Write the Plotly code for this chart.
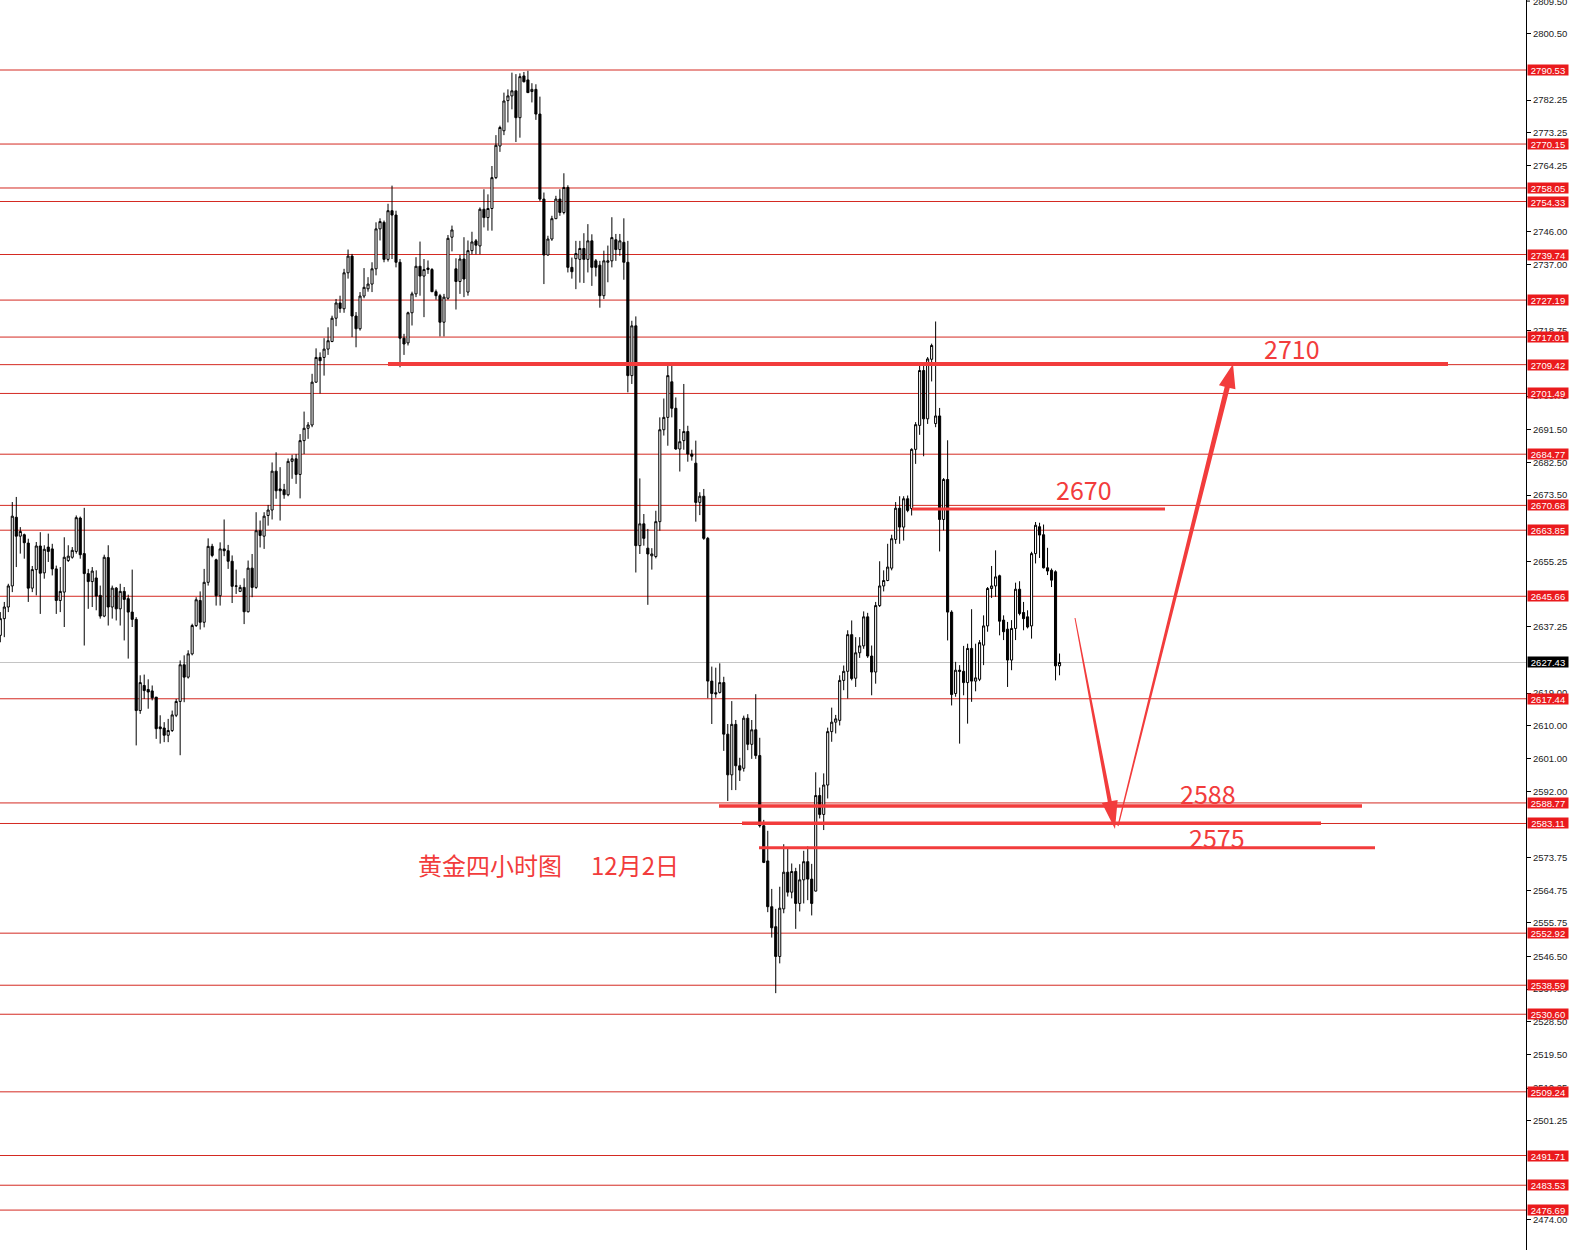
import plotly.graph_objects as go

# ---------------- data (4-hour gold candles) ----------------
open_ = [
    2634.9, 2639.5, 2642.7, 2648.5, 2667.4, 2662.2, 2662.6, 2660.3, 2647.9, 2653.0,
    2659.5, 2652.1, 2659.2, 2658.7, 2653.2, 2644.5, 2646.8, 2655.5, 2656.4, 2658.0,
    2667.2, 2657.4, 2651.9, 2649.7, 2650.7, 2645.9, 2640.2, 2656.3, 2642.7, 2647.9,
    2642.2, 2647.0, 2645.0, 2641.3, 2639.3, 2614.2, 2621.1, 2620.0, 2619.6, 2617.9,
    2609.7, 2609.4, 2607.4, 2608.7, 2612.9, 2616.7, 2626.8, 2623.4, 2629.8, 2637.6,
    2644.5, 2638.5, 2649.5, 2659.4, 2655.7, 2645.8, 2658.7, 2658.2, 2655.3, 2648.4,
    2647.0, 2648.1, 2641.4, 2653.4, 2648.1, 2663.7, 2662.2, 2667.9, 2669.4, 2680.1,
    2675.2, 2675.0, 2673.6, 2682.8, 2683.5, 2679.2, 2688.5, 2691.9, 2692.8, 2704.6,
    2711.4, 2711.4, 2713.7, 2715.8, 2722.2, 2726.4, 2724.8, 2734.7, 2739.3, 2722.8,
    2719.3, 2728.3, 2730.3, 2731.6, 2735.8, 2746.8, 2748.6, 2738.4, 2751.8, 2750.6,
    2737.6, 2716.7, 2715.4, 2723.7, 2728.9, 2736.5, 2733.8, 2736.0, 2735.6, 2729.5,
    2728.4, 2721.1, 2727.7, 2744.5, 2735.8, 2732.3, 2738.5, 2729.4, 2740.8, 2743.5,
    2742.1, 2752.2, 2749.9, 2752.4, 2760.9, 2769.6, 2773.8, 2782.1, 2783.4, 2784.8,
    2777.4, 2788.9, 2787.8, 2784.6, 2785.2, 2778.4, 2755.0, 2739.6, 2744.0, 2749.6,
    2755.0, 2751.3, 2758.2, 2736.2, 2738.6, 2738.4, 2741.4, 2738.4, 2743.5, 2738.0,
    2736.8, 2728.4, 2737.6, 2738.0, 2743.8, 2741.1, 2743.1, 2737.6, 2706.4, 2720.1,
    2659.6, 2665.6, 2658.9, 2656.8, 2656.6, 2666.2, 2691.5, 2694.9, 2704.7, 2697.4,
    2686.2, 2688.5, 2691.0, 2684.8, 2682.3, 2671.5, 2673.2, 2661.6, 2622.3, 2619.1,
    2619.2, 2621.9, 2607.7, 2596.5, 2610.4, 2599.0, 2598.3, 2612.1, 2604.9, 2608.9,
    2601.8, 2582.5, 2572.8, 2560.2, 2554.7, 2546.5, 2559.6, 2569.7, 2564.2, 2569.9,
    2561.1, 2567.6, 2572.6, 2567.8, 2564.5, 2590.8, 2585.6, 2593.7, 2608.4, 2611.0,
    2611.5, 2622.5, 2625.0, 2635.1, 2623.1, 2630.1, 2632.0, 2640.0, 2629.2, 2624.8,
    2643.1, 2648.5, 2650.0, 2653.4, 2661.3, 2669.9, 2664.7, 2672.5, 2669.8, 2686.1,
    2692.7, 2707.8, 2694.5, 2710.9, 2693.2, 2695.3, 2666.8, 2677.8, 2641.3, 2618.9,
    2625.3, 2625.0, 2621.9, 2631.3, 2622.3, 2622.8, 2632.2, 2637.5, 2647.8, 2648.5,
    2651.3, 2639.1, 2636.6, 2628.1, 2636.8, 2647.6, 2641.2, 2640.0, 2637.5, 2657.4,
    2664.8, 2662.6, 2653.5, 2652.8, 2652.4, 2626.5,
]
high = [
    2641.3, 2644.1, 2649.1, 2671.6, 2673.0, 2664.7, 2662.9, 2661.5, 2654.0, 2660.6,
    2663.3, 2659.7, 2662.9, 2660.1, 2654.1, 2653.7, 2661.9, 2659.7, 2659.2, 2667.9,
    2667.6, 2670.0, 2653.2, 2653.7, 2652.8, 2648.6, 2657.1, 2659.7, 2648.6, 2648.2,
    2649.1, 2648.2, 2646.1, 2653.0, 2639.9, 2623.9, 2624.1, 2622.8, 2621.1, 2617.9,
    2612.9, 2611.0, 2611.9, 2614.2, 2617.4, 2628.0, 2629.4, 2630.8, 2638.1, 2645.4,
    2647.0, 2653.2, 2661.6, 2660.1, 2656.0, 2660.5, 2666.8, 2659.8, 2656.9, 2653.0,
    2648.8, 2650.6, 2655.5, 2657.3, 2668.8, 2666.5, 2668.8, 2670.8, 2682.5, 2685.3,
    2681.2, 2676.6, 2683.6, 2684.6, 2684.8, 2690.3, 2696.5, 2693.6, 2706.9, 2713.9,
    2712.8, 2716.7, 2719.7, 2722.9, 2727.5, 2728.4, 2735.8, 2741.1, 2739.9, 2723.9,
    2729.4, 2736.0, 2733.5, 2737.6, 2748.6, 2749.7, 2749.1, 2753.7, 2758.7, 2751.8,
    2738.5, 2717.9, 2724.0, 2729.5, 2739.0, 2743.3, 2738.5, 2738.1, 2736.0, 2730.1,
    2728.9, 2728.9, 2745.1, 2747.7, 2738.7, 2739.6, 2744.5, 2743.6, 2746.0, 2744.0,
    2752.7, 2757.7, 2756.3, 2764.1, 2772.6, 2775.2, 2784.3, 2785.2, 2789.8, 2789.4,
    2789.6, 2790.0, 2790.3, 2786.9, 2786.6, 2783.2, 2756.8, 2744.9, 2750.4, 2755.9,
    2757.7, 2762.1, 2758.8, 2738.9, 2743.5, 2743.5, 2745.6, 2748.1, 2745.3, 2738.5,
    2738.0, 2740.8, 2742.2, 2750.0, 2745.4, 2745.4, 2749.7, 2743.5, 2721.5, 2722.7,
    2678.1, 2668.3, 2664.2, 2658.9, 2669.2, 2694.9, 2700.1, 2710.0, 2709.9, 2700.4,
    2691.7, 2704.1, 2692.6, 2686.0, 2688.5, 2674.3, 2675.2, 2662.0, 2626.3, 2626.0,
    2627.2, 2623.5, 2610.5, 2616.8, 2611.6, 2601.2, 2612.8, 2613.2, 2611.6, 2618.7,
    2606.7, 2584.1, 2581.1, 2565.1, 2559.6, 2565.7, 2577.4, 2576.1, 2572.1, 2570.9,
    2571.9, 2575.6, 2576.8, 2572.0, 2597.2, 2593.0, 2596.9, 2609.5, 2615.0, 2613.0,
    2623.9, 2626.6, 2636.3, 2639.0, 2634.4, 2634.4, 2641.5, 2641.1, 2632.1, 2644.1,
    2655.3, 2652.8, 2660.1, 2662.6, 2671.6, 2673.2, 2673.2, 2673.4, 2686.4, 2693.6,
    2710.1, 2709.2, 2711.5, 2715.2, 2721.3, 2697.5, 2678.2, 2688.6, 2641.8, 2627.6,
    2626.7, 2632.0, 2632.6, 2642.1, 2632.6, 2633.6, 2640.4, 2648.2, 2654.0, 2658.3,
    2651.6, 2640.4, 2638.6, 2639.1, 2649.4, 2649.8, 2644.1, 2641.8, 2657.9, 2666.1,
    2665.9, 2665.4, 2659.0, 2653.3, 2652.8, 2629.9,
]
low = [
    2633.0, 2634.4, 2641.3, 2646.8, 2653.7, 2657.4, 2656.0, 2644.1, 2646.8, 2645.9,
    2640.8, 2650.5, 2655.1, 2651.4, 2640.8, 2641.3, 2637.2, 2655.1, 2656.0, 2657.4,
    2656.0, 2632.1, 2642.2, 2642.7, 2641.8, 2639.5, 2639.9, 2637.6, 2639.5, 2639.0,
    2637.6, 2633.5, 2628.5, 2637.2, 2604.6, 2613.3, 2617.4, 2614.7, 2617.0, 2606.4,
    2605.1, 2605.5, 2605.5, 2608.3, 2612.4, 2601.9, 2616.5, 2623.0, 2629.4, 2637.2,
    2636.5, 2637.1, 2648.6, 2656.4, 2643.1, 2643.1, 2656.7, 2653.2, 2643.8, 2646.3,
    2646.8, 2638.0, 2641.2, 2645.4, 2647.7, 2659.1, 2658.7, 2665.1, 2666.8, 2672.5,
    2666.5, 2672.5, 2673.2, 2678.0, 2676.6, 2672.6, 2684.8, 2689.0, 2692.2, 2704.4,
    2701.5, 2706.4, 2712.1, 2715.6, 2720.0, 2723.7, 2723.7, 2733.1, 2717.0, 2714.2,
    2718.8, 2727.7, 2729.5, 2729.4, 2734.0, 2743.6, 2737.6, 2737.8, 2738.5, 2736.2,
    2708.7, 2712.1, 2714.7, 2720.2, 2728.0, 2728.4, 2722.5, 2734.4, 2729.4, 2727.3,
    2717.2, 2717.2, 2727.3, 2740.6, 2724.6, 2728.9, 2728.0, 2728.4, 2739.8, 2739.8,
    2739.8, 2747.2, 2746.3, 2746.3, 2760.5, 2768.0, 2772.6, 2776.1, 2779.7, 2770.7,
    2771.9, 2787.1, 2784.3, 2781.6, 2776.8, 2754.5, 2731.6, 2739.4, 2743.5, 2749.5,
    2750.4, 2750.8, 2734.8, 2733.1, 2730.2, 2732.0, 2731.9, 2734.8, 2731.1, 2733.7,
    2725.1, 2727.5, 2732.1, 2736.2, 2738.0, 2739.4, 2732.8, 2701.8, 2704.1, 2652.2,
    2657.3, 2659.6, 2643.3, 2653.0, 2656.1, 2663.7, 2689.9, 2687.1, 2694.9, 2686.0,
    2680.0, 2686.0, 2682.7, 2683.0, 2666.2, 2668.0, 2661.2, 2617.6, 2610.5, 2617.7,
    2618.9, 2603.1, 2589.3, 2592.3, 2592.3, 2594.8, 2597.4, 2603.3, 2600.9, 2600.9,
    2582.0, 2572.2, 2558.7, 2551.7, 2536.4, 2544.6, 2558.4, 2563.0, 2562.5, 2554.1,
    2558.9, 2561.1, 2562.0, 2557.8, 2564.4, 2584.5, 2581.3, 2590.0, 2605.6, 2607.9,
    2610.1, 2619.8, 2617.5, 2622.5, 2620.7, 2628.7, 2631.2, 2628.7, 2618.4, 2621.6,
    2642.7, 2647.0, 2649.8, 2652.8, 2660.1, 2660.1, 2661.0, 2668.8, 2667.9, 2682.1,
    2690.1, 2684.2, 2693.1, 2704.8, 2692.2, 2658.0, 2663.8, 2633.5, 2615.6, 2618.0,
    2605.1, 2618.4, 2610.6, 2616.6, 2619.5, 2622.3, 2626.7, 2635.9, 2645.2, 2645.5,
    2634.9, 2633.6, 2620.7, 2625.3, 2633.6, 2640.4, 2636.3, 2636.8, 2634.0, 2654.7,
    2656.2, 2653.3, 2651.5, 2648.2, 2622.5, 2623.9,
]
close = [
    2639.5, 2642.7, 2648.5, 2667.7, 2662.2, 2663.5, 2660.4, 2647.9, 2653.0, 2659.5,
    2652.0, 2658.6, 2658.0, 2653.2, 2644.5, 2647.0, 2656.4, 2656.7, 2658.3, 2667.3,
    2657.1, 2651.9, 2649.7, 2652.6, 2645.7, 2640.2, 2656.4, 2642.7, 2647.9, 2642.2,
    2647.0, 2644.8, 2641.3, 2639.3, 2614.2, 2621.9, 2619.7, 2619.3, 2617.7, 2609.2,
    2609.2, 2607.4, 2608.7, 2613.0, 2616.7, 2626.8, 2623.4, 2629.8, 2637.6, 2644.7,
    2638.5, 2649.5, 2659.4, 2656.9, 2645.8, 2658.7, 2658.2, 2655.3, 2648.4, 2648.5,
    2648.1, 2641.4, 2653.4, 2648.1, 2663.7, 2662.4, 2667.7, 2669.4, 2680.1, 2674.7,
    2674.7, 2673.6, 2682.8, 2683.5, 2679.2, 2688.5, 2691.9, 2692.8, 2704.6, 2711.4,
    2710.5, 2713.7, 2716.0, 2722.2, 2726.4, 2724.9, 2734.7, 2739.3, 2722.8, 2719.3,
    2728.3, 2730.7, 2731.6, 2735.8, 2746.8, 2748.8, 2738.4, 2751.8, 2750.6, 2737.6,
    2716.7, 2715.1, 2723.7, 2728.9, 2736.5, 2733.8, 2735.6, 2735.6, 2729.5, 2728.4,
    2721.1, 2728.0, 2744.2, 2746.5, 2732.3, 2738.5, 2733.0, 2740.8, 2743.2, 2742.3,
    2752.2, 2749.9, 2752.4, 2760.9, 2769.8, 2774.7, 2782.0, 2783.4, 2784.8, 2777.4,
    2788.7, 2787.3, 2784.3, 2785.2, 2778.4, 2755.0, 2739.6, 2744.0, 2749.6, 2755.0,
    2751.3, 2758.2, 2736.2, 2735.0, 2740.0, 2741.4, 2738.4, 2743.5, 2736.2, 2736.2,
    2728.4, 2738.0, 2738.0, 2744.4, 2741.1, 2743.5, 2737.6, 2706.4, 2720.1, 2659.6,
    2665.6, 2661.6, 2657.3, 2657.3, 2666.2, 2691.5, 2694.9, 2706.4, 2697.4, 2686.2,
    2688.2, 2691.0, 2684.8, 2684.2, 2671.5, 2673.2, 2661.6, 2622.3, 2618.9, 2618.8,
    2621.9, 2607.7, 2596.5, 2610.4, 2599.0, 2597.8, 2612.1, 2604.9, 2608.9, 2601.8,
    2582.5, 2572.4, 2560.2, 2554.4, 2546.5, 2559.8, 2569.7, 2564.2, 2569.9, 2561.1,
    2567.6, 2572.6, 2567.8, 2561.1, 2590.8, 2585.6, 2593.7, 2608.4, 2611.0, 2611.9,
    2622.5, 2625.0, 2635.1, 2623.0, 2630.1, 2632.0, 2640.0, 2629.2, 2624.8, 2643.1,
    2648.5, 2650.0, 2653.7, 2661.5, 2669.9, 2664.7, 2672.5, 2669.3, 2686.1, 2692.9,
    2707.8, 2694.5, 2711.0, 2714.7, 2695.3, 2666.8, 2677.8, 2641.3, 2618.6, 2625.3,
    2625.0, 2621.9, 2631.3, 2622.3, 2623.2, 2632.9, 2637.5, 2647.8, 2648.5, 2651.0,
    2638.8, 2635.9, 2628.1, 2636.8, 2647.6, 2640.9, 2639.5, 2637.2, 2657.4, 2665.2,
    2662.5, 2653.5, 2652.6, 2650.1, 2626.5, 2627.43,
]
assert len(open_) == len(high) == len(low) == len(close), (len(open_), len(high), len(low), len(close))
bar_index = list(range(len(close)))

# horizontal support / resistance levels (with red price tags)
level_prices = [2790.53, 2770.15, 2758.05, 2754.33, 2739.74, 2727.19, 2717.01, 2709.42,
                2701.49, 2684.77, 2670.68, 2663.85, 2645.66, 2617.44, 2588.77, 2583.11,
                2552.92, 2538.59, 2530.60, 2509.24, 2491.71, 2483.53, 2476.69]
current_price = 2627.43

# price axis ticks (those fully hidden behind the price tags are left out)
tick_values = [2800.50, 2782.25, 2773.25, 2764.25, 2746.00, 2737.00, 2718.75, 2700.75,
               2691.50, 2682.50, 2673.50, 2655.25, 2637.25, 2619.00, 2610.00, 2601.00,
               2592.00, 2573.75, 2564.75, 2555.75, 2546.50, 2537.50, 2528.50, 2519.50,
               2510.25, 2501.25, 2474.00]
tick_labels = [f"{v:.2f}" for v in tick_values]
top_tick = 2809.50

# hand-drawn target levels
target_prices = [2709.6, 2669.7, 2587.9, 2583.2, 2576.4]
target_labels = ["2710", "2670", "2588", "", "2575"]

title_left = "黄金四小时图"
title_right = "12月2日"

# ---------------- figure ----------------
W, H = 1569, 1250
PW = 1526  # plot-area width in px (axis sits at its right edge)
RED_LINE = "#d42a22"
RED_TAG = "#ea1a1d"
RED_DRAW = "#f23c3c"


def px(x):
    return x / PW


def py(y):
    return 1 - y / H


fig = go.Figure()
fig.add_trace(go.Candlestick(
    x=bar_index, open=open_, high=high, low=low, close=close,
    increasing=dict(line=dict(color="black", width=1), fillcolor="white"),
    decreasing=dict(line=dict(color="black", width=1), fillcolor="black"),
    whiskerwidth=0, hoverinfo="skip", showlegend=False,
))

shapes = []
annotations = []
tick_font = dict(family="Liberation Sans, Arial, sans-serif", size=9.5, color="#222222")
tag_font = dict(family="Liberation Sans, Arial, sans-serif", size=9.5, color="white")

for lv in level_prices:
    shapes.append(dict(type="line", xref="paper", yref="y", x0=0, x1=1, y0=lv, y1=lv,
                       line=dict(color=RED_LINE, width=1), layer="below"))
    annotations.append(dict(xref="paper", yref="y", x=1, y=lv, xanchor="left", yanchor="middle",
                            xshift=1, text=f"{lv:.2f}", showarrow=False, font=tag_font,
                            bgcolor=RED_TAG, width=40, height=10, borderpad=0))

shapes.append(dict(type="line", xref="paper", yref="y", x0=0, x1=1, y0=current_price, y1=current_price,
                   line=dict(color="#c4c4c4", width=1), layer="below"))
annotations.append(dict(xref="paper", yref="y", x=1, y=current_price, xanchor="left", yanchor="middle",
                        xshift=1, text=f"{current_price:.2f}", showarrow=False, font=tag_font,
                        bgcolor="black", width=40, height=10, borderpad=0))

# top tick label, half cut by the top edge as in the source
annotations.append(dict(xref="paper", yref="y", x=1, y=top_tick, xanchor="left", yanchor="middle",
                        xshift=5, text=f"{top_tick:.2f}", showarrow=False, font=tick_font))
shapes.append(dict(type="line", xref="paper", yref="y", x0=1, x1=1 + 4 / PW, y0=top_tick, y1=top_tick,
                   line=dict(color="black", width=1)))

# drawn thick lines (pixel extents of the hand drawing)
target_x = [(388, 1448), (912, 1165), (719, 1362), (742, 1321), (759, 1375)]
target_w = [4, 3, 3.5, 3.5, 3]
for (x0, x1), p, w in zip(target_x, target_prices, target_w):
    shapes.append(dict(type="line", xref="paper", yref="y", x0=px(x0), x1=px(x1), y0=p, y1=p,
                       line=dict(color=RED_DRAW, width=w), layer="above"))

label_pos = [(1292, 348), (1084, 489), (1208, 793), None, (1217, 837)]
for lab, pos in zip(target_labels, label_pos):
    if not lab:
        continue
    annotations.append(dict(xref="paper", yref="paper", x=px(pos[0]), y=py(pos[1]),
                            xanchor="center", yanchor="middle", text=lab, showarrow=False,
                            font=dict(family="Noto Sans CJK SC, Noto Sans, sans-serif", size=25,
                                      color=RED_DRAW)))

annotations.append(dict(xref="paper", yref="paper", x=px(416), y=py(864), xanchor="left",
                        yanchor="middle", text=title_left, showarrow=False,
                        font=dict(family="Noto Sans CJK SC", size=24, color=RED_DRAW)))
annotations.append(dict(xref="paper", yref="paper", x=px(589), y=py(864), xanchor="left",
                        yanchor="middle", text=title_right, showarrow=False,
                        font=dict(family="Noto Sans CJK SC", size=24, color=RED_DRAW)))


def tapered_arrow(start, tip, w0, w1, head_len, head_w):
    sx, sy = start
    tx, ty = tip
    dx, dy = tx - sx, ty - sy
    ln = (dx * dx + dy * dy) ** 0.5
    ux, uy = dx / ln, dy / ln
    nx, ny = -uy, ux
    bx, by = tx - ux * head_len, ty - uy * head_len
    pts = [
        (sx + nx * w0, sy + ny * w0),
        (bx + nx * w1, by + ny * w1),
        (bx + nx * head_w, by + ny * head_w),
        (tx, ty),
        (bx - nx * head_w, by - ny * head_w),
        (bx - nx * w1, by - ny * w1),
        (sx - nx * w0, sy - ny * w0),
    ]
    path = "M " + " L ".join(f"{px(x):.5f},{py(y):.5f}" for x, y in pts) + " Z"
    return dict(type="path", xref="paper", yref="paper", path=path,
                fillcolor=RED_DRAW, line=dict(width=0), layer="above")


shapes.append(tapered_arrow((1075, 618), (1115, 829), 0.5, 2.0, 28, 8))
shapes.append(tapered_arrow((1118, 826), (1233, 364), 0.6, 2.6, 24, 8.5))

fig.update_layout(
    width=W, height=H,
    margin=dict(l=0, r=W - PW, t=0, b=0),
    paper_bgcolor="white", plot_bgcolor="white",
    showlegend=False,
    boxgap=0.25,
    xaxis=dict(range=[-0.075, 381.7], visible=False, showgrid=False, zeroline=False,
               rangeslider=dict(visible=False)),
    yaxis=dict(side="right", range=[2465.7, 2809.8], tickmode="array",
               tickvals=tick_values, ticktext=tick_labels,
               showgrid=False, zeroline=False, showline=True, linecolor="black", linewidth=1,
               ticks="outside", ticklen=4, tickcolor="black", tickfont=tick_font),
    shapes=shapes,
    annotations=annotations,
)

fig.write_html("out.html", config={"displayModeBar": False},
               post_script="document.body.style.margin='0';")
